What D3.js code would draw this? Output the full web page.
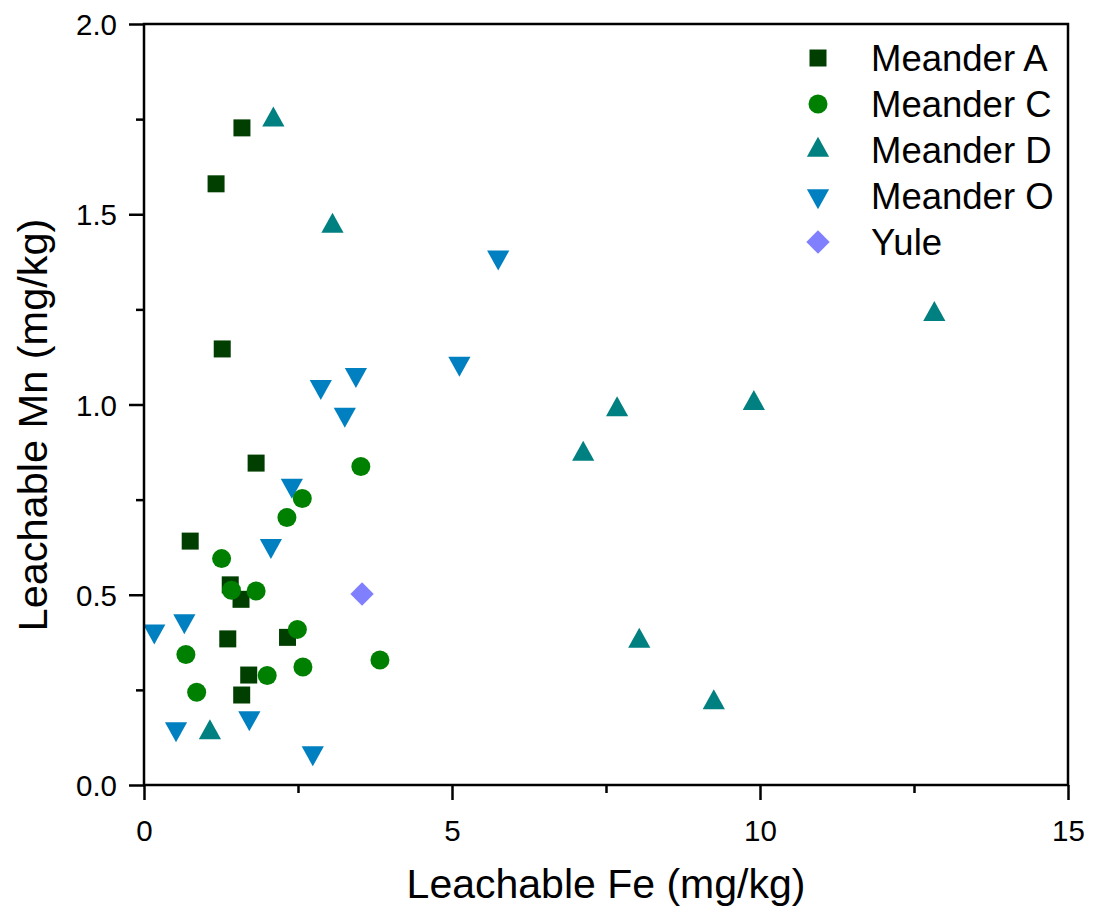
<!DOCTYPE html>
<html>
<head>
<meta charset="utf-8">
<script src="https://cdn.jsdelivr.net/npm/d3@7"></script>
<style>
  html, body { margin: 0; padding: 0; background: #fff; }
  svg { display: block; }
  text { font-family: "Liberation Sans", Arial, sans-serif; fill: #000; }
</style>
</head>
<body>
<script>
// Leachable Fe vs leachable Mn per meander site (mg/kg)
const meanderA_Fe = [1.59, 1.17, 1.27, 1.82, 0.75, 1.40, 1.575, 1.36, 2.33, 1.70, 1.586];
const meanderA_Mn = [1.727, 1.58, 1.146, 0.846, 0.641, 0.526, 0.488, 0.384, 0.388, 0.289, 0.2365];

const meanderC_Fe = [3.52, 2.57, 2.32, 1.26, 1.42, 1.82, 2.49, 0.68, 3.83, 2.58, 2.00, 0.855];
const meanderC_Mn = [0.837, 0.753, 0.703, 0.595, 0.512, 0.510, 0.409, 0.343, 0.3285, 0.310, 0.288, 0.244];

const meanderD_Fe = [2.10, 3.06, 12.83, 9.90, 7.68, 7.13, 8.04, 9.25, 1.07];
const meanderD_Mn = [1.748, 1.469, 1.237, 1.003, 0.987, 0.870, 0.378, 0.217, 0.138];

const meanderO_Fe = [2.87, 3.44, 3.26, 5.75, 5.12, 2.40, 2.06, 0.655, 0.167, 0.52, 1.71, 2.74];
const meanderO_Mn = [1.047, 1.078, 0.974, 1.387, 1.108, 0.787, 0.629, 0.431, 0.404, 0.147, 0.176, 0.084];

const yule_Fe = [3.54];
const yule_Mn = [0.502];

const seriesNames = ["Meander A", "Meander C", "Meander D", "Meander O", "Yule"];
const xTicks = [0, 5, 10, 15];
const yTicks = [0.0, 0.5, 1.0, 1.5, 2.0];

const W = 1094, H = 916;
const plotL = 144, plotR = 1068, plotT = 24, plotB = 785;

const x = d3.scaleLinear().domain([0, 15]).range([plotL, plotR]);
const y = d3.scaleLinear().domain([0, 2]).range([plotB, plotT]);

const svg = d3.select("body").append("svg").attr("width", W).attr("height", H);

// marker shapes
const shapes = {
  square: "M-8.5,-8.5H8.5V8.5H-8.5Z",
  circle: d3.symbol().type(d3.symbolCircle).size(Math.PI * 9.5 * 9.5)(),
  up: "M0,-13.3L11.1,6.7L-11.1,6.7Z",
  down: "M0,13.3L11.1,-6.7L-11.1,-6.7Z",
  diamond: "M0,-11.7L11.7,0L0,11.7L-11.7,0Z"
};

const series = [
  { name: seriesNames[0], fe: meanderA_Fe, mn: meanderA_Mn, color: "#003F00", shape: "square" },
  { name: seriesNames[1], fe: meanderC_Fe, mn: meanderC_Mn, color: "#008000", shape: "circle" },
  { name: seriesNames[2], fe: meanderD_Fe, mn: meanderD_Mn, color: "#008080", shape: "up" },
  { name: seriesNames[3], fe: meanderO_Fe, mn: meanderO_Mn, color: "#0080C0", shape: "down" },
  { name: seriesNames[4], fe: yule_Fe, mn: yule_Mn, color: "#8080FF", shape: "diamond" }
];

// drawing order: O, D, A, C, Yule
const drawOrder = [3, 2, 0, 1, 4];
const marks = svg.append("g");
drawOrder.forEach(i => {
  const s = series[i];
  marks.append("g").selectAll("path")
    .data(s.fe.map((v, k) => [v, s.mn[k]]))
    .join("path")
    .attr("d", shapes[s.shape])
    .attr("transform", d => `translate(${x(d[0])},${y(d[1])})`)
    .attr("fill", s.color);
});

// axes
const axisW = 2.5;
const xAxis = d3.axisBottom(x).tickValues(xTicks).tickSize(15).tickFormat(d3.format("d"));
const yAxis = d3.axisLeft(y).tickValues(yTicks).tickSize(15).tickFormat(d3.format(".1f"));

const gx = svg.append("g").attr("transform", `translate(0,${plotB})`).call(xAxis);
const gy = svg.append("g").attr("transform", `translate(${plotL},0)`).call(yAxis);

// minor ticks
const xMinor = d3.axisBottom(x).tickValues([2.5, 7.5, 12.5]).tickSize(8).tickFormat("");
const yMinor = d3.axisLeft(y).tickValues([0.25, 0.75, 1.25, 1.75]).tickSize(8).tickFormat("");
const gxm = svg.append("g").attr("transform", `translate(0,${plotB})`).call(xMinor);
const gym = svg.append("g").attr("transform", `translate(${plotL},0)`).call(yMinor);

[gx, gy, gxm, gym].forEach(g => {
  g.select(".domain").remove();
  g.selectAll(".tick line").attr("stroke", "#000").attr("stroke-width", axisW);
});

gx.selectAll(".tick text").attr("font-size", 29.5).attr("dy", null).attr("y", 56)
  .attr("fill", "#000")
  .style("font-family", "'Liberation Sans', Arial, sans-serif");
gy.selectAll(".tick text").attr("font-size", 29.5).attr("dy", "0.36em").attr("x", -27)
  .attr("fill", "#000")
  .style("font-family", "'Liberation Sans', Arial, sans-serif");

// frame
svg.append("rect")
  .attr("x", plotL).attr("y", plotT)
  .attr("width", plotR - plotL).attr("height", plotB - plotT)
  .attr("fill", "none").attr("stroke", "#000").attr("stroke-width", axisW);

// axis titles
svg.append("text")
  .attr("x", (plotL + plotR) / 2).attr("y", 898)
  .attr("text-anchor", "middle").attr("font-size", 41)
  .text("Leachable Fe (mg/kg)");

svg.append("text")
  .attr("transform", `translate(47,425) rotate(-90)`)
  .attr("text-anchor", "middle").attr("font-size", 41.5)
  .text("Leachable Mn (mg/kg)");

// legend
const legend = svg.append("g");
series.forEach((s, i) => {
  const cy = 58 + i * 46;
  legend.append("path")
    .attr("d", shapes[s.shape])
    .attr("transform", `translate(818,${cy})`)
    .attr("fill", s.color);
  legend.append("text")
    .attr("x", 871).attr("y", cy + 12.5)
    .attr("font-size", 36.5)
    .text(s.name);
});
</script>
</body>
</html>
